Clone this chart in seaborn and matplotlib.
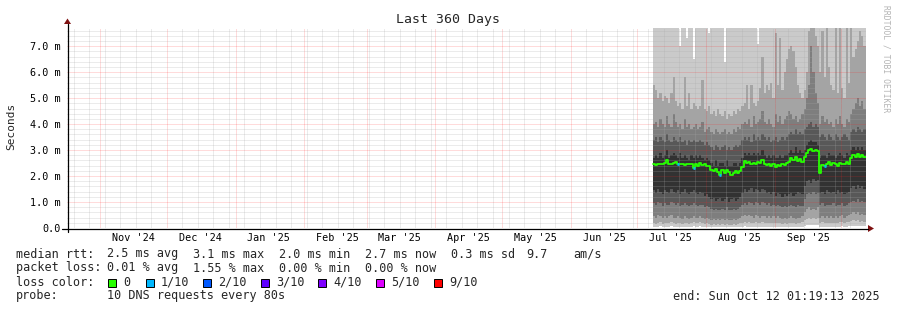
import matplotlib
matplotlib.use("Agg")
import matplotlib.pyplot as plt
import matplotlib.dates as mdates
from matplotlib.ticker import MultipleLocator
from matplotlib.transforms import Affine2D
from matplotlib.patches import Rectangle, Polygon
from matplotlib.lines import Line2D
import numpy as np
import pandas as pd
import seaborn as sns

# ---------------- data ----------------
t_start = "2024-10-17 01:19:13"
t_end = "2025-10-12 01:19:13"
data_start = "2025-07-07 22:00"          # first consolidated (daily) bin

median = [2.45, 2.42, 2.45, 2.48, 2.45, 2.50, 2.62, 2.48, 2.45, 2.50,
          2.55, 2.48, 2.45, 2.48, 2.42, 2.45, 2.45, 2.45, 2.30, 2.45,
          2.40, 2.50, 2.42, 2.45, 2.40, 2.38, 2.25, 2.20, 2.28, 2.15,
          2.05, 2.25, 2.10, 2.22, 2.15, 2.05, 2.12, 2.20, 2.10, 2.18,
          2.35, 2.58, 2.50, 2.55, 2.48, 2.52, 2.45, 2.55, 2.50, 2.62,
          2.48, 2.42, 2.45, 2.38, 2.45, 2.35, 2.42, 2.40, 2.45, 2.42,
          2.50, 2.55, 2.70, 2.62, 2.75, 2.58, 2.65, 2.55, 2.72, 2.90,
          3.00, 3.05, 2.95, 3.02, 2.95, 2.12, 2.42, 2.40, 2.45, 2.55,
          2.42, 2.50, 2.45, 2.40, 2.52, 2.48, 2.45, 2.55, 2.48, 2.70,
          2.80, 2.75, 2.85, 2.72, 2.80, 2.75]

# loss per bin, in tenths (0 = no loss)
loss = [0] * 11 + [1] + [0] * 6 + [1] + [0] * 11 + [1] + [0] * 46 + [1] + [0] * 18

# sorted pings (smoke), values in ms
p10 = [9.0] * 12 + [7.0, 9.0, 9.0, 7.3, 9.0, 9.0, 6.5] + [9.0] * 6 + [7.5] + [9.0] * 6 + [6.4] \
      + [9.0] * 14 + [7.1] + [9.0] * 48
p9 = [5.5, 5.3, 5.0, 5.2, 4.9, 5.1, 5.0, 4.8, 5.2, 5.8,
      4.9, 4.7, 4.8, 4.6, 5.8, 4.7, 5.2, 4.6, 4.8, 4.7,
      4.6, 4.7, 5.7, 4.6, 4.5, 4.7, 4.4, 4.5, 4.3, 4.6,
      4.4, 4.3, 4.5, 4.2, 4.4, 4.3, 4.5, 4.4, 4.6, 4.5,
      4.7, 4.8, 5.5, 4.6, 5.5, 4.8, 4.7, 4.9, 5.4, 6.6,
      5.2, 5.5, 5.3, 5.6, 5.0, 7.5, 5.5, 7.3, 5.3, 6.0,
      6.5, 6.9, 7.0, 6.8, 6.2, 5.5, 5.2, 5.0, 5.3, 6.0,
      7.6, 7.7, 7.7, 7.4, 7.0, 6.0, 7.6, 5.8, 7.7, 6.2,
      5.5, 5.3, 7.7, 5.2, 7.7, 5.4, 5.0, 7.7, 5.6, 7.7,
      6.6, 6.9, 7.2, 7.6, 7.4, 7.0]
p8 = [4.0, 4.1, 3.9, 4.2, 4.0, 3.9, 4.3, 4.0, 3.9, 4.4,
      4.1, 3.9, 4.0, 3.8, 4.2, 3.9, 4.0, 3.8, 3.9, 4.0,
      3.8, 3.9, 4.1, 3.7, 3.8, 3.9, 3.7, 3.6, 3.8, 3.7,
      3.6, 3.7, 3.8, 3.6, 3.7, 3.6, 3.8, 3.7, 3.9, 3.8,
      4.0, 4.1, 4.0, 4.2, 3.9, 4.3, 4.0, 4.1, 4.2, 4.5,
      4.1, 4.0, 4.2, 4.0, 3.9, 4.4, 4.1, 4.3, 4.0, 4.2,
      4.3, 4.5, 4.4, 4.2, 4.3, 4.1, 4.2, 4.4, 4.6, 5.0,
      5.5, 7.0, 6.0, 5.2, 4.8, 4.0, 4.3, 4.1, 4.2, 4.0,
      4.1, 3.9, 4.2, 4.0, 4.3, 4.0, 3.9, 4.2, 4.1, 4.4,
      4.6, 4.8, 5.0, 4.7, 4.9, 4.6]
p7 = [3.4, 3.5, 3.3, 3.5, 3.4, 3.3, 3.6, 3.4, 3.3, 3.5,
      3.4, 3.3, 3.5, 3.3, 3.4, 3.2, 3.4, 3.3, 3.4, 3.3,
      3.3, 3.4, 3.3, 3.2, 3.3, 3.2, 3.1, 3.0, 3.2, 3.1,
      3.0, 3.1, 3.2, 3.0, 3.1, 3.0, 3.1, 3.2, 3.1, 3.2,
      3.4, 3.5, 3.4, 3.5, 3.3, 3.6, 3.4, 3.5, 3.4, 3.6,
      3.5, 3.4, 3.5, 3.3, 3.4, 3.5, 3.3, 3.4, 3.5, 3.4,
      3.5, 3.6, 3.7, 3.6, 3.8, 3.6, 3.7, 3.6, 3.8, 3.9,
      4.0, 4.1, 3.9, 4.0, 3.9, 3.5, 3.6, 3.5, 3.4, 3.6,
      3.5, 3.4, 3.6, 3.5, 3.4, 3.5, 3.6, 3.5, 3.4, 3.7,
      3.8, 3.7, 3.9, 3.8, 3.7, 3.8]
p6 = [2.7, 2.8, 2.7, 2.9, 2.7, 2.8, 3.0, 2.7, 2.8, 2.9,
      2.8, 2.7, 2.9, 2.7, 2.8, 2.7, 2.6, 2.8, 2.7, 2.8,
      2.7, 2.8, 2.7, 2.6, 2.7, 2.6, 2.5, 2.4, 2.6, 2.4,
      2.5, 2.5, 2.4, 2.6, 2.4, 2.4, 2.5, 2.5, 2.4, 2.5,
      2.7, 2.9, 2.8, 2.9, 2.8, 2.9, 2.8, 2.9, 2.8, 3.0,
      2.8, 2.7, 2.8, 2.7, 2.8, 2.7, 2.7, 2.8, 2.7, 2.8,
      2.8, 2.9, 3.0, 2.9, 3.1, 2.9, 3.0, 2.9, 3.0, 3.2,
      3.3, 3.4, 3.3, 3.3, 3.2, 2.7, 2.8, 2.8, 2.7, 2.9,
      2.8, 2.8, 2.7, 2.8, 2.9, 2.8, 2.7, 2.9, 2.8, 3.0,
      3.1, 3.0, 3.1, 3.0, 3.1, 3.0]
p5 = [1.45, 1.35, 1.5, 1.4, 1.3, 1.45, 1.4, 1.35, 1.5, 1.4,
      1.35, 1.45, 1.3, 1.4, 1.5, 1.35, 1.3, 1.4, 1.45, 1.35,
      1.3, 1.4, 1.35, 1.25, 1.3, 1.2, 1.1, 1.15, 1.05, 1.1,
      1.15, 1.05, 1.1, 1.2, 1.0, 1.1, 1.15, 1.05, 1.1, 1.2,
      1.35, 1.5, 1.4, 1.45, 1.55, 1.4, 1.5, 1.45, 1.4, 1.5,
      1.45, 1.35, 1.4, 1.3, 1.4, 1.25, 1.35, 1.3, 1.2, 1.3,
      1.25, 1.3, 1.35, 1.25, 1.3, 1.4, 1.35, 1.3, 1.6, 1.8,
      1.85, 1.75, 1.9, 1.8, 1.85, 1.35, 1.4, 1.3, 1.45, 1.4,
      1.35, 1.4, 1.3, 1.45, 1.35, 1.4, 1.3, 1.35, 1.4, 1.55,
      1.6, 1.5, 1.65, 1.55, 1.6, 1.5]
p4 = [0.95, 0.9, 1.0, 0.95, 0.85, 0.95, 0.9, 0.9, 1.0, 0.95,
      0.9, 0.95, 0.85, 0.9, 0.95, 0.9, 0.85, 0.9, 0.95, 0.9,
      0.85, 0.9, 0.9, 0.8, 0.85, 0.8, 0.75, 0.7, 0.75, 0.7,
      0.7, 0.75, 0.7, 0.8, 0.7, 0.7, 0.75, 0.7, 0.75, 0.8,
      0.9, 0.95, 0.9, 1.0, 0.95, 0.9, 1.0, 0.95, 0.9, 1.0,
      0.95, 0.9, 0.95, 0.85, 0.9, 0.85, 0.9, 0.85, 0.8, 0.85,
      0.8, 0.85, 0.9, 0.85, 0.8, 0.9, 0.85, 0.85, 1.1, 1.3,
      1.35, 1.3, 1.4, 1.3, 1.35, 0.9, 0.95, 0.85, 0.9, 0.9,
      0.9, 0.95, 0.85, 0.9, 0.9, 0.95, 0.85, 0.9, 0.95, 1.0,
      1.05, 1.0, 1.1, 1.0, 1.05, 1.0]
p3 = [0.45, 0.4, 0.5, 0.45, 0.4, 0.45, 0.4, 0.45, 0.5, 0.4,
      0.4, 0.45, 0.4, 0.35, 0.45, 0.4, 0.35, 0.4, 0.45, 0.4,
      0.4, 0.45, 0.4, 0.35, 0.4, 0.35, 0.3, 0.35, 0.3, 0.35,
      0.3, 0.35, 0.3, 0.35, 0.3, 0.3, 0.35, 0.3, 0.35, 0.4,
      0.45, 0.5, 0.45, 0.5, 0.45, 0.4, 0.5, 0.45, 0.4, 0.45,
      0.45, 0.4, 0.45, 0.4, 0.45, 0.4, 0.45, 0.4, 0.35, 0.4,
      0.35, 0.4, 0.45, 0.4, 0.35, 0.4, 0.4, 0.45, 0.6, 0.75,
      0.8, 0.7, 0.75, 0.7, 0.8, 0.4, 0.45, 0.4, 0.45, 0.4,
      0.45, 0.4, 0.45, 0.4, 0.45, 0.5, 0.4, 0.45, 0.5, 0.55,
      0.6, 0.55, 0.6, 0.5, 0.55, 0.5]
p2 = [0.2, 0.15, 0.2, 0.25, 0.15, 0.2, 0.18, 0.2, 0.25, 0.18,
      0.15, 0.2, 0.18, 0.15, 0.2, 0.18, 0.15, 0.2, 0.22, 0.18,
      0.2, 0.25, 0.2, 0.15, 0.2, 0.15, 0.12, 0.15, 0.12, 0.15,
      0.12, 0.15, 0.12, 0.15, 0.12, 0.12, 0.15, 0.12, 0.15, 0.18,
      0.2, 0.25, 0.2, 0.22, 0.2, 0.18, 0.22, 0.2, 0.18, 0.22,
      0.2, 0.18, 0.2, 0.18, 0.2, 0.18, 0.2, 0.18, 0.15, 0.18,
      0.15, 0.18, 0.2, 0.18, 0.15, 0.18, 0.2, 0.22, 0.3, 0.35,
      0.4, 0.35, 0.38, 0.35, 0.4, 0.2, 0.22, 0.18, 0.2, 0.18,
      0.2, 0.18, 0.2, 0.18, 0.22, 0.25, 0.2, 0.22, 0.25, 0.28,
      0.3, 0.28, 0.32, 0.25, 0.28, 0.25]
p1 = [0.05, 0.04, 0.05, 0.06, 0.04, 0.05, 0.05, 0.04, 0.06, 0.05,
      0.04, 0.05, 0.05, 0.04, 0.05, 0.05, 0.04, 0.05, 0.06, 0.05,
      0.05, 0.06, 0.05, 0.04, 0.05, 0.04, 0.03, 0.04, 0.03, 0.04,
      0.03, 0.04, 0.03, 0.04, 0.03, 0.03, 0.04, 0.03, 0.04, 0.05,
      0.05, 0.06, 0.05, 0.05, 0.05, 0.04, 0.05, 0.05, 0.04, 0.05,
      0.05, 0.04, 0.05, 0.04, 0.05, 0.04, 0.05, 0.04, 0.04, 0.04,
      0.04, 0.04, 0.05, 0.04, 0.04, 0.04, 0.05, 0.05, 0.08, 0.1,
      0.12, 0.1, 0.11, 0.1, 0.12, 0.05, 0.05, 0.04, 0.05, 0.04,
      0.05, 0.04, 0.05, 0.04, 0.05, 0.06, 0.05, 0.05, 0.06, 0.07,
      0.08, 0.07, 0.08, 0.06, 0.07, 0.06]

month_labels = ["Nov '24", "Dec '24", "Jan '25", "Feb '25", "Mar '25", "Apr '25",
                "May '25", "Jun '25", "Jul '25", "Aug '25", "Sep '25"]
y_ticks = [0, 1, 2, 3, 4, 5, 6, 7]
y_tick_labels = ["0.0", "1.0 m", "2.0 m", "3.0 m", "4.0 m", "5.0 m", "6.0 m", "7.0 m"]

loss_names = ["0", "1/10", "2/10", "3/10", "4/10", "5/10", "9/10"]
loss_levels = [0, 1, 2, 3, 4, 5, 9]
loss_colors = ["#26ff00", "#00b8ff", "#0059ff", "#5e00ff", "#7e00ff", "#dd00ff", "#ff0000"]
smoke_colors = ["#cacaca", "#a4a4a4", "#7e7e7e", "#585858", "#323232"]

# ---------------- figure ----------------
sns.set_theme(style="white")
plt.rcParams["font.family"] = ["DejaVu Sans Mono", "DejaVu Sans"]

W, H = 897, 310
fig = plt.figure(figsize=(W / 100, H / 100), dpi=100)
fig.patch.set_facecolor("white")
px = Affine2D().scale(1 / W, -1 / H).translate(0, 1) + fig.transFigure

L, R, T, B = 67, 866, 28, 228
ax = fig.add_axes([L / W, 1 - B / H, (R - L) / W, (B - T) / H])
ax.set_facecolor("white")
ax.set_xlim(mdates.date2num(pd.Timestamp(t_start)), mdates.date2num(pd.Timestamp(t_end)))
ax.set_ylim(0, 7.7)

edges = pd.date_range(data_start, periods=len(median) + 1, freq="D")
xs = mdates.date2num(edges)


def ext(a):
    a = np.asarray(a, dtype=float)
    return np.append(a, a[-1])


bands = [(p1, p10), (p2, p9), (p3, p8), (p4, p7), (p5, p6)]
for (lo, hi), col in zip(bands, smoke_colors):
    ax.fill_between(xs, ext(lo), ext(hi), step="post", color=col, lw=0, zorder=1)

sns.lineplot(x=xs, y=ext(median), drawstyle="steps-post", color=loss_colors[0],
             lw=1.3, estimator=None, ax=ax, zorder=3)
for i, lv in enumerate(loss):
    if lv > 0:
        c = loss_colors[loss_levels.index(lv)]
        ax.hlines(median[i], xs[i], xs[i + 1], color=c, lw=2.0, zorder=4)

# grid (dotted, drawn over the smoke like rrdtool does)
ax.xaxis.set_major_locator(mdates.MonthLocator())
ax.xaxis.set_minor_locator(mdates.WeekdayLocator(byweekday=mdates.SU))
ax.yaxis.set_major_locator(MultipleLocator(1))
ax.yaxis.set_minor_locator(MultipleLocator(0.2))
ax.set_axisbelow(False)
ax.grid(which="minor", color="#a8a8a8", alpha=0.45, ls=(0, (1, 1)), lw=0.72)
ax.grid(which="major", color="#ff2020", alpha=0.32, ls=(0, (1, 1)), lw=0.72)

ax.set_yticks(y_ticks)
ax.set_yticklabels(y_tick_labels, fontsize=7.3, color="black")
ax.set_xticklabels([])
ax.tick_params(axis="y", which="major", length=3, width=0.72, color="#444444", pad=1.5)
ax.tick_params(axis="y", which="minor", length=0)
ax.tick_params(axis="x", which="major", length=2.2, width=0.72, color="#f08080", direction="out")
ax.tick_params(axis="x", which="minor", length=1.5, width=0.72, color="#bbbbbb", direction="out")
for s in ax.spines.values():
    s.set_visible(False)
ax.set_xlabel("")
ax.set_ylabel("")

mids = pd.date_range("2024-11-01", periods=len(month_labels), freq="MS") + pd.Timedelta(days=15)
for lab, m in zip(month_labels, mids):
    ax.text(mdates.date2num(m), -0.05, lab, transform=ax.get_xaxis_transform(),
            ha="center", va="center", fontsize=7.3, color="black")

# axis lines and arrows
fig.add_artist(Line2D([62, 868], [228.5, 228.5], transform=px, color="black", lw=0.9))
fig.add_artist(Line2D([67.5, 67.5], [232, 24], transform=px, color="black", lw=0.9))
fig.add_artist(Polygon([[868, 225], [874, 228.5], [868, 232]], closed=True, transform=px,
                       color="#7f1010", lw=0))
fig.add_artist(Polygon([[64, 24], [67.5, 18.5], [71, 24]], closed=True, transform=px,
                       color="#7f1010", lw=0))

# titles
fig.text(448, 19, "Last 360 Days", transform=px, ha="center", va="center", fontsize=9.5)
fig.text(11, 126, "Seconds", transform=px, ha="center", va="center", rotation=90, fontsize=8)
fig.text(886, 59, "RRDTOOL / TOBI OETIKER", transform=px, ha="center", va="center",
         rotation=270, fontsize=5.8, color="#b4b4b4")

# legend text
fs = 8.5
row1 = [(16, "median rtt:"), (107, "2.5 ms avg"), (193, "3.1 ms max"), (279, "2.0 ms min"),
        (365, "2.7 ms now"), (451, "0.3 ms sd"), (526, "9.7"), (573, "am/s")]
row2 = [(16, "packet loss:"), (107, "0.01 % avg"), (193, "1.55 % max"), (279, "0.00 % min"),
        (365, "0.00 % now")]
for x, s in row1:
    fig.text(x, 254, s, transform=px, ha="left", va="center", fontsize=fs)
for x, s in row2:
    fig.text(x, 268, s, transform=px, ha="left", va="center", fontsize=fs)

fig.text(16, 282, "loss color:", transform=px, ha="left", va="center", fontsize=fs)
box_x = [108, 146, 203, 261, 318, 376, 434]
for bx, name, col in zip(box_x, loss_names, loss_colors):
    fig.add_artist(Rectangle((bx, 286.5), 8, -8, transform=px, facecolor=col,
                             edgecolor="black", lw=0.7))
    fig.text(bx + 15, 282, name, transform=px, ha="left", va="center", fontsize=fs)

fig.text(16, 296, "probe:", transform=px, ha="left", va="center", fontsize=fs)
fig.text(107, 296, "10 DNS requests every 80s", transform=px, ha="left", va="center", fontsize=fs)
fig.text(880, 296, "end: Sun Oct 12 01:19:13 2025", transform=px, ha="right", va="center",
         fontsize=fs)

fig.savefig("out.png", dpi=100)
